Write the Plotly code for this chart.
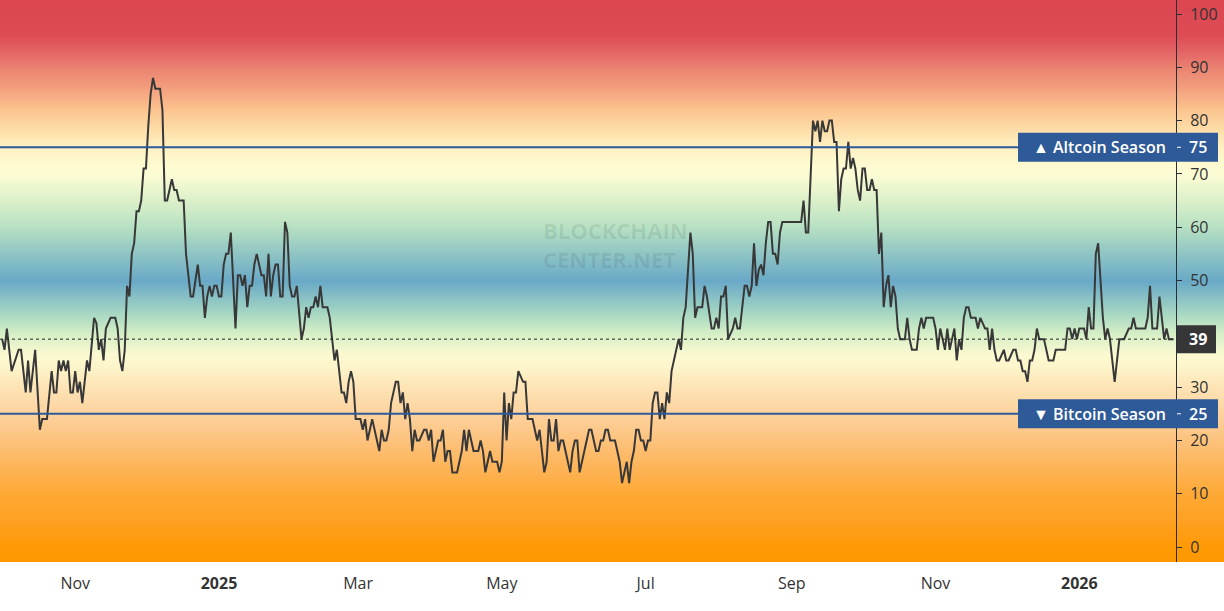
import numpy as np
import pandas as pd
import plotly.graph_objects as go

# ---------------- data ----------------
START_DATE = "2024-10-01"
day_offsets = [
    0, 1, 2, 3, 4, 7, 8, 10, 11, 12, 14, 16, 17, 19, 21, 22, 23, 24, 25, 26, 27, 28, 29, 30, 31, 32, 33, 34, 36, 37,
    39, 40, 41, 42, 43, 44, 46, 48, 49, 50, 51, 52, 53, 54, 55, 56, 57, 58, 59, 60, 61, 62, 63, 64, 65, 67, 68, 69, 70,
    72, 73, 74, 75, 77, 78, 80, 81, 83, 84, 85, 86, 87, 88, 89, 90, 91, 92, 93, 94, 95, 96, 97, 98, 99, 100, 101, 102,
    103, 104, 105, 106, 107, 108, 109, 110, 111, 112, 113, 114, 115, 116, 117, 118, 119, 120, 121, 122, 123, 124, 125,
    127, 128, 129, 130, 131, 132, 133, 134, 135, 136, 138, 139, 140, 141, 142, 144, 145, 146, 147, 148, 149, 150, 152,
    153, 154, 155, 157, 159, 160, 161, 162, 163, 164, 165, 167, 168, 169, 170, 171, 172, 173, 174, 175, 176, 177, 179,
    180, 181, 182, 183, 184, 185, 186, 187, 188, 189, 190, 191, 193, 195, 196, 197, 198, 199, 200, 202, 203, 204, 205,
    206, 207, 208, 210, 211, 212, 213, 214, 215, 216, 217, 218, 219, 221, 222, 223, 225, 226, 227, 228, 230, 231, 232,
    233, 234, 235, 236, 237, 238, 239, 241, 242, 243, 244, 245, 246, 247, 249, 250, 252, 253, 254, 255, 256, 257, 258,
    260, 261, 262, 263, 264, 265, 266, 267, 268, 269, 270, 271, 272, 273, 274, 275, 276, 277, 278, 279, 280, 281, 282,
    283, 284, 285, 286, 287, 288, 289, 290, 291, 292, 293, 294, 295, 296, 297, 298, 299, 301, 302, 303, 304, 305, 306,
    307, 308, 310, 311, 312, 313, 315, 316, 317, 318, 319, 320, 321, 322, 323, 324, 325, 326, 327, 328, 329, 330, 331,
    339, 340, 341, 342, 343, 344, 345, 346, 347, 348, 349, 350, 351, 352, 353, 354, 355, 356, 357, 358, 359, 360, 361,
    362, 363, 364, 365, 366, 367, 368, 369, 370, 371, 372, 373, 374, 375, 376, 377, 378, 379, 380, 381, 383, 384, 385,
    386, 388, 389, 390, 391, 392, 395, 396, 397, 398, 399, 400, 401, 402, 403, 404, 405, 406, 407, 408, 409, 410, 411,
    413, 414, 415, 416, 417, 418, 419, 420, 421, 422, 423, 425, 426, 427, 429, 430, 431, 432, 433, 434, 435, 436, 437,
    438, 439, 440, 442, 443, 444, 446, 447, 451, 452, 453, 454, 455, 456, 457, 459, 460, 461, 462, 463, 464, 465, 466,
    467, 468, 469, 470, 471, 472, 473, 474, 476, 478, 479, 480, 481, 485, 486, 487, 488, 490, 491, 492, 493, 494, 495,
    497,
]
index_values = [
    39, 37, 41, 37, 33, 37, 37, 29, 35, 29, 37, 22, 24, 24, 33, 29, 29, 35, 33, 35, 33, 35, 29, 29, 33, 29, 31, 27, 35, 33,
    43, 42, 37, 39, 35, 41, 43, 43, 41, 35, 33, 37, 49, 47, 55, 57, 63, 63, 65, 71, 71, 79, 85, 88, 86, 86, 82, 65, 65,
    69, 67, 67, 65, 65, 55, 47, 47, 53, 49, 49, 43, 47, 49, 47, 49, 49, 47, 47, 53, 55, 55, 59, 49, 41, 51, 51, 49,
    51, 45, 49, 49, 53, 55, 53, 51, 51, 47, 55, 47, 51, 53, 53, 47, 47, 61, 59, 49, 47, 47, 49,
    39, 41, 45, 43, 45, 45, 47, 45, 49, 45, 45, 43, 39, 35, 37, 29, 29, 27, 31, 33, 31, 24, 24,
    22, 24, 20, 24, 20, 18, 22, 20, 20, 22, 27, 31, 31, 27, 29, 24, 27, 24, 18, 22, 20, 20, 22,
    22, 20, 22, 16, 18, 20, 20, 22, 16, 18, 18, 14, 14, 18, 22, 18, 22, 20, 18, 18, 20, 18, 14,
    16, 18, 16, 16, 14, 16, 29, 20, 27, 24, 29, 29, 33, 31, 31, 24, 24, 22, 20, 22, 14, 16, 24,
    20, 20, 24, 18, 20, 20, 18, 14, 18, 20, 20, 14, 16, 18, 22, 22, 18, 18, 20, 20, 22, 22, 20,
    20, 18, 16, 12, 14, 16, 12, 16, 18, 22, 22, 20, 20, 18, 20, 20, 27, 29, 29, 24, 27, 24, 29,
    27, 33, 35, 37, 39, 37, 43, 45, 53, 59, 55, 43, 45, 45, 45, 49, 47, 41, 41, 43, 41, 47, 47,
    49, 39, 41, 43, 41, 41, 49, 49, 47, 49, 57, 49, 52, 53, 51, 57, 61, 61, 55, 55, 53, 59, 61,
    61, 65, 59, 59, 69, 80, 78, 80, 76, 80, 78, 78, 80, 80, 76, 76, 63, 69, 71, 71, 76, 71, 73,
    71, 67, 65, 71, 71, 67, 67, 69, 67, 67, 55, 59, 45, 49, 51, 45, 49, 47, 41, 39, 39, 43, 39,
    37, 37, 41, 43, 41, 43, 43, 41, 37, 41, 39, 37, 41, 37, 39, 41, 35, 39, 37, 43, 45, 45, 43,
    43, 41, 43, 42, 41, 41, 37, 41, 37, 35, 35, 37, 35, 35, 37, 37, 35, 35, 33, 33, 31, 35, 35,
    37, 41, 39, 39, 37, 35, 35, 37, 37, 41, 41, 39, 41, 39, 41, 41, 39, 45, 41, 41, 55, 57, 50,
    43, 39, 41, 39, 35, 31, 35, 39, 39, 41, 41, 43, 41, 41, 43, 49, 41, 41, 47, 43, 39, 41, 39,
    39,
]
ALTCOIN_LEVEL = 75
BITCOIN_LEVEL = 25
# "40" is hidden behind the current-value badge in the reference
y_tick_values = [0, 10, 20, 30, 50, 60, 70, 80, 90, 100]
x_tick_dates = ["2024-11-01", "2025-01-01", "2025-03-01", "2025-05-01", "2025-07-01",
                "2025-09-01", "2025-11-01", "2026-01-01"]
x_tick_labels = ["Nov", "<b>2025</b>", "Mar", "May", "Jul", "Sep", "Nov", "<b>2026</b>"]

# background gradient stops (index value -> colour)
grad_levels = [-3, 0, 5, 10, 15, 20, 25, 30, 34, 36, 40, 44, 50, 55, 60, 65, 70, 72, 75, 78, 82, 86, 90, 93, 96, 103]
grad_colors = ['#ff9800', '#ff9a05', '#fea022', '#fea935', '#fdb458', '#fdc27c', '#fdd29e', '#fde4b5', '#fdf5cb',
               '#fcf9d1', '#d6efc6', '#a6d7c3', '#69a9c7', '#8ec4c4', '#b6e0c3', '#dbf0c9', '#fcfcd4', '#fefad0',
               '#fef1c4', '#fde0ab', '#fcc58f', '#f3a07f', '#ea8270', '#e36465', '#dd4c55', '#dc4650']

# ---------------- geometry ----------------
W, H = 1224, 611
PLOT_H = 562
AXIS_X = 1176
start = pd.Timestamp(START_DATE)
dates = start + pd.to_timedelta(day_offsets, unit="D")
px_per_day = 2.357
x0_px_day = 2.16
x_range = [start + pd.Timedelta(days=(0 - x0_px_day) / px_per_day),
           start + pd.Timedelta(days=(W - x0_px_day) / px_per_day)]
y_range = [-2.81, 102.63]
units_per_px = (y_range[1] - y_range[0]) / PLOT_H

fig = go.Figure()

# gradient background
zmin, zmax = grad_levels[0], grad_levels[-1]
cscale = [[(v - zmin) / (zmax - zmin), c] for v, c in zip(grad_levels, grad_colors)]
gy = np.arange(-6, 106.5, 0.5)
fig.add_trace(go.Heatmap(
    x=[x_range[0] - pd.Timedelta(days=40), x_range[1] + pd.Timedelta(days=40)],
    y=gy, z=[[v, v] for v in gy], zmin=zmin, zmax=zmax,
    colorscale=cscale, showscale=False, zsmooth="best", hoverinfo="skip"))

# index line
fig.add_trace(go.Scatter(x=dates, y=index_values, mode="lines",
                         line=dict(color="#383838", width=2), hoverinfo="x+y", showlegend=False))

last_value = index_values[-1]
axis_pos = AXIS_X / W

shapes = []
for lvl in (ALTCOIN_LEVEL, BITCOIN_LEVEL):
    shapes.append(dict(type="line", xref="paper", yref="y", x0=0, x1=1018 / W, y0=lvl, y1=lvl,
                       line=dict(color="#2e5a98", width=2), layer="above"))
shapes.append(dict(type="line", xref="paper", yref="y", x0=0, x1=axis_pos, y0=last_value, y1=last_value,
                   line=dict(color="#222222", width=1, dash="dot"), layer="above"))

annotations = []
badge_half = 14.5 * units_per_px
for lvl, label in ((ALTCOIN_LEVEL, "▲ Altcoin Season"), (BITCOIN_LEVEL, "▼ Bitcoin Season")):
    shapes.append(dict(type="rect", xref="paper", yref="y", x0=1018 / W, x1=1218 / W,
                       y0=lvl - badge_half, y1=lvl + badge_half,
                       fillcolor="#2e5a98", line=dict(width=0), layer="above"))
    shapes.append(dict(type="line", xref="paper", yref="y", x0=(AXIS_X + 1) / W, x1=(AXIS_X + 5) / W,
                       y0=lvl, y1=lvl, line=dict(color="white", width=1), layer="above"))
    annotations.append(dict(xref="paper", yref="y", x=1168 / W, y=lvl, xanchor="right", yanchor="middle",
                            text=label, showarrow=False,
                            font=dict(family="Open Sans", size=16, color="white", weight=600)))
    annotations.append(dict(xref="paper", yref="y", x=1198 / W, y=lvl, xanchor="center", yanchor="middle",
                            text=str(lvl), showarrow=False,
                            font=dict(family="Open Sans", size=16, color="white", weight=600)))

shapes.append(dict(type="rect", xref="paper", yref="y", x0=(AXIS_X + 1) / W, x1=1216 / W,
                   y0=last_value - 14 * units_per_px, y1=last_value + 14 * units_per_px,
                   fillcolor="#363636", line=dict(width=0), layer="above"))
annotations.append(dict(xref="paper", yref="y", x=1198 / W, y=last_value, xanchor="center", yanchor="middle",
                        text=str(last_value), showarrow=False,
                        font=dict(family="Open Sans", size=16, color="white", weight=700)))

annotations.append(dict(xref="paper", yref="paper", x=615 / W, y=(PLOT_H - 244) / PLOT_H,
                        xanchor="center", yanchor="middle", showarrow=False,
                        text="BLOCKCHAIN<br>CENTER.NET", align="left",
                        font=dict(family="Open Sans", size=22, color="rgba(20,40,40,0.09)", weight=700)))

fig.update_layout(
    width=W, height=H,
    margin=dict(l=0, r=0, t=0, b=H - PLOT_H),
    paper_bgcolor="white", plot_bgcolor="white",
    showlegend=False,
    shapes=shapes, annotations=annotations,
    xaxis=dict(type="date", range=x_range, showgrid=False, zeroline=False, showline=False,
               tickvals=x_tick_dates, ticktext=x_tick_labels, ticks="", automargin=False,
               ticklabelstandoff=10,
               tickfont=dict(family="Open Sans", size=16, color="#333333"), fixedrange=True),
    yaxis=dict(range=y_range, anchor="free", position=axis_pos, side="right", automargin=False,
               showgrid=False, zeroline=False, showline=True, linecolor="#2a2e39", linewidth=1,
               tickvals=y_tick_values, ticks="outside", ticklen=5, tickcolor="#2a2e39",
               ticklabelstandoff=5,
               tickfont=dict(family="Open Sans", size=16, color="#333333"), fixedrange=True),
)

fig.write_html("out.html", config={"displayModeBar": False},
               post_script="document.body.style.margin='0';document.body.style.overflow='hidden';")
